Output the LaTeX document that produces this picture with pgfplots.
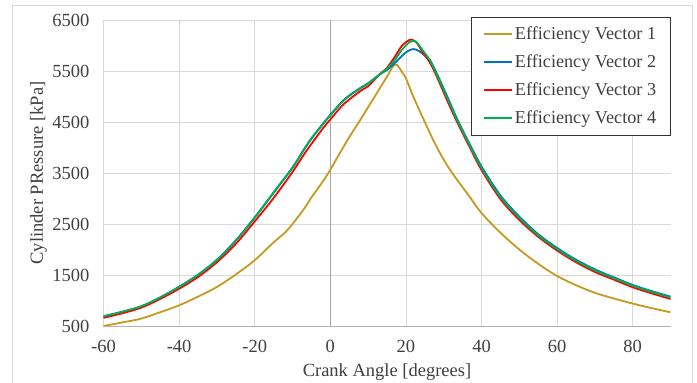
\documentclass[border=0pt]{standalone}
\usepackage{pgfplots}
\pgfplotsset{compat=1.18}
\usepackage{fontspec}
\setmainfont{Liberation Serif}
\definecolor{ev1}{HTML}{C49B1E}
\definecolor{ev2}{HTML}{0070C0}
\definecolor{ev3}{HTML}{FF0000}
\definecolor{ev4}{HTML}{00B050}
\definecolor{gridc}{HTML}{D9D9D9}
\definecolor{txt}{HTML}{404040}
\begin{document}
\begin{tikzpicture}
\begin{axis}[
 at={(0pt,0pt)}, anchor=south west,
 scale only axis, width=567pt, height=306pt,
 xmin=-60, xmax=90, ymin=500, ymax=6500,
 xtick={-60,-40,...,80}, ytick={500,1500,...,6500},
 grid=major, major grid style={gridc, line width=0.8pt},
 axis line style={draw=none},
 major tick length=0pt,
 tick label style={font=\fontsize{18.5}{21}\selectfont, text=txt},
 /pgf/number format/assume math mode=true,
 /pgf/number format/1000 sep={},
 xticklabel style={anchor=base, yshift=-27pt},
 yticklabel style={anchor=east, inner sep=0pt, xshift=-14pt},
 extra x ticks={0}, extra x tick labels={},
 extra x tick style={major grid style={black!35, line width=0.8pt}},
 extra y ticks={500}, extra y tick labels={},
 extra y tick style={major grid style={black!30, line width=0.8pt}},
 xlabel={Crank Angle [degrees]},
 xlabel style={at={(axis description cs:0.5,0)}, anchor=base, yshift=-51pt, font=\fontsize{18.5}{21}\selectfont, text=txt},
 ylabel={Cylinder PRessure [kPa]},
 ylabel style={at={(axis description cs:0,0.5)}, anchor=south, inner sep=0pt, yshift=56.5pt, font=\fontsize{18.5}{21}\selectfont, text=txt},
 legend cell align=left,
 legend style={at={(rel axis cs:1,1)}, anchor=north east, yshift=3.3pt, draw=black!80, line width=0.8pt, fill=white, font=\fontsize{18.2}{21}\selectfont, text=txt, inner xsep=12pt, inner ysep=8pt, row sep=9.6pt},
 legend image code/.code={\draw[#1] (0pt,0pt) -- (28pt,0pt);},
 every axis plot/.append style={line width=1.8pt, smooth, tension=0.55},
]
\addplot[ev1] coordinates {
(-60,500) (-55,570) (-50,645) (-45,770) (-40,905) (-35,1075) (-30,1265) (-25,1510) (-20,1790) (-15,2140) (-12,2330) (-10,2500) (-7,2790) (-5,3020) (-2,3330) (0,3565) (3,3950) (5,4200) (8,4550) (10,4790) (13,5150) (15,5390) (16.3,5560) (17.2,5625) (18,5590) (19,5475) (20,5357) (22,4990) (25,4500) (28,4030) (31,3640) (34,3320) (37,3020) (40,2715) (45,2330) (50,2000) (55,1720) (60,1480) (65,1300) (70,1150) (75,1040) (80,940) (85,850) (90,770)
};
\addlegendentry{Efficiency Vector 1}
\addplot[ev2] coordinates {
(-60,690) (-55,780) (-50,886) (-45,1060) (-40,1270) (-35,1505) (-30,1800) (-25,2180) (-20,2630) (-15,3120) (-10,3610) (-7,3960) (-5,4180) (-2,4460) (0,4640) (3,4890) (5,5020) (8,5170) (10,5260) (13,5430) (15,5520) (17,5650) (19,5800) (20.5,5890) (22,5930) (23.5,5890) (25,5800) (26.3,5720) (28,5480) (31,4990) (33.8,4520) (37,4050) (40,3630) (45,3060) (50,2645) (55,2300) (60,2030) (65,1800) (70,1610) (75,1455) (80,1305) (85,1185) (90,1075)
};
\addlegendentry{Efficiency Vector 2}
\addplot[ev3] coordinates {
(-60,660) (-55,750) (-50,860) (-45,1030) (-40,1230) (-35,1460) (-30,1750) (-25,2110) (-20,2550) (-15,3010) (-10,3520) (-7,3860) (-5,4070) (-2,4370) (0,4550) (3,4810) (5,4940) (8,5110) (10,5200) (13,5430) (15,5560) (17,5770) (19,6000) (21,6110) (22,6100) (23,6040) (24.5,5860) (26.3,5670) (28,5420) (31,4910) (33.8,4460) (37,3990) (40,3560) (45,2990) (50,2580) (55,2250) (60,1980) (65,1750) (70,1560) (75,1410) (80,1260) (85,1140) (90,1030)
};
\addlegendentry{Efficiency Vector 3}
\addplot[ev4] coordinates {
(-60,690) (-55,780) (-50,886) (-45,1060) (-40,1265) (-35,1500) (-30,1790) (-25,2170) (-20,2620) (-15,3110) (-10,3600) (-7,3950) (-5,4170) (-2,4450) (0,4630) (3,4880) (5,5010) (8,5160) (10,5250) (13,5430) (15,5540) (17,5710) (19,5920) (21,6070) (22,6090) (23,6050) (24.5,5900) (26.3,5715) (28,5460) (31,4960) (33.8,4500) (37,4030) (40,3600) (45,3030) (50,2620) (55,2280) (60,2010) (65,1780) (70,1590) (75,1440) (80,1290) (85,1170) (90,1060)
};
\addlegendentry{Efficiency Vector 4}
\end{axis}
\pgfresetboundingbox
\useasboundingbox (-103.5pt,-57pt) rectangle (593.5pt,326pt);
\draw[gridc, line width=0.8pt] (-91.5pt,-70pt) -- (-91.5pt,321pt) -- (588.5pt,321pt) -- (588.5pt,-70pt);
\end{tikzpicture}
\end{document}
